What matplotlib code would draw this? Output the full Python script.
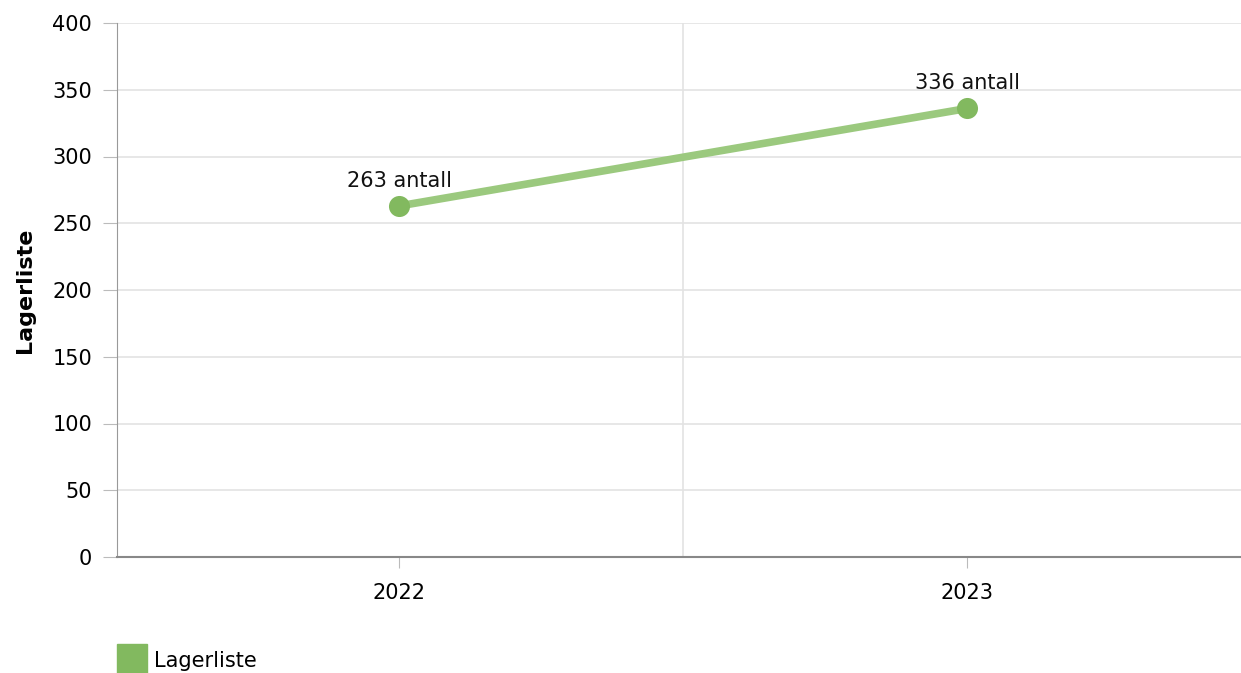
import matplotlib
matplotlib.use("Agg")
import matplotlib.pyplot as plt
from matplotlib.patches import Rectangle

years = ["2022", "2023"]
values = [263, 336]
point_labels = ["263 antall", "336 antall"]
series_name = "Lagerliste"
y_ticks = [0, 50, 100, 150, 200, 250, 300, 350, 400]

W, H = 1241, 673
fig = plt.figure(figsize=(W / 100, H / 100), dpi=100)
ax = fig.add_axes([117 / W, 1 - 557 / H, 1136 / W, 534 / H])

x = list(range(len(years)))
ax.plot(x, values, color="#9bc97e", lw=5.5, solid_capstyle="butt", zorder=3)
ax.scatter(x, values, s=230, color="#82b95f", zorder=4, linewidths=0)
for xi, v, lab in zip(x, values, point_labels):
    ax.annotate(lab, (xi, v), xytext=(0, 11), textcoords="offset points",
                ha="center", va="bottom", fontsize=15, color="#111111")

ax.set_xlim(-0.497, 1.503)
ax.set_ylim(0, 400)
ax.set_yticks(y_ticks)
ax.set_xticks(x)
ax.set_xticklabels(years)
ax.set_xticks([0.5], minor=True)
ax.grid(axis="y", color="#e3e3e3", lw=1.2)
ax.grid(axis="x", which="minor", color="#e3e3e3", lw=1.2)
ax.grid(axis="x", which="major", visible=False)
ax.set_axisbelow(True)

for s in ["top", "right"]:
    ax.spines[s].set_visible(False)
ax.spines["left"].set_color("#999999")
ax.spines["bottom"].set_color("#888888")
ax.spines["bottom"].set_linewidth(1.5)
ax.tick_params(axis="y", length=10, color="#bbbbbb", labelsize=15, pad=8)
ax.tick_params(axis="x", which="major", length=8, color="#bbbbbb", labelsize=15, pad=11)
ax.tick_params(axis="x", which="minor", length=0)

ax.set_ylabel(series_name, fontsize=16, fontweight="bold", va="center")
ax.yaxis.set_label_coords(-92 / 1136, 0.5)

fig.patches.append(Rectangle((117 / W, 1 - 673 / H), 30 / W, 29 / H,
                             transform=fig.transFigure, color="#82b95f"))
fig.text(154 / W, 1 - 661 / H, series_name, fontsize=15, va="center", ha="left")

fig.savefig("out.png", dpi=100)
